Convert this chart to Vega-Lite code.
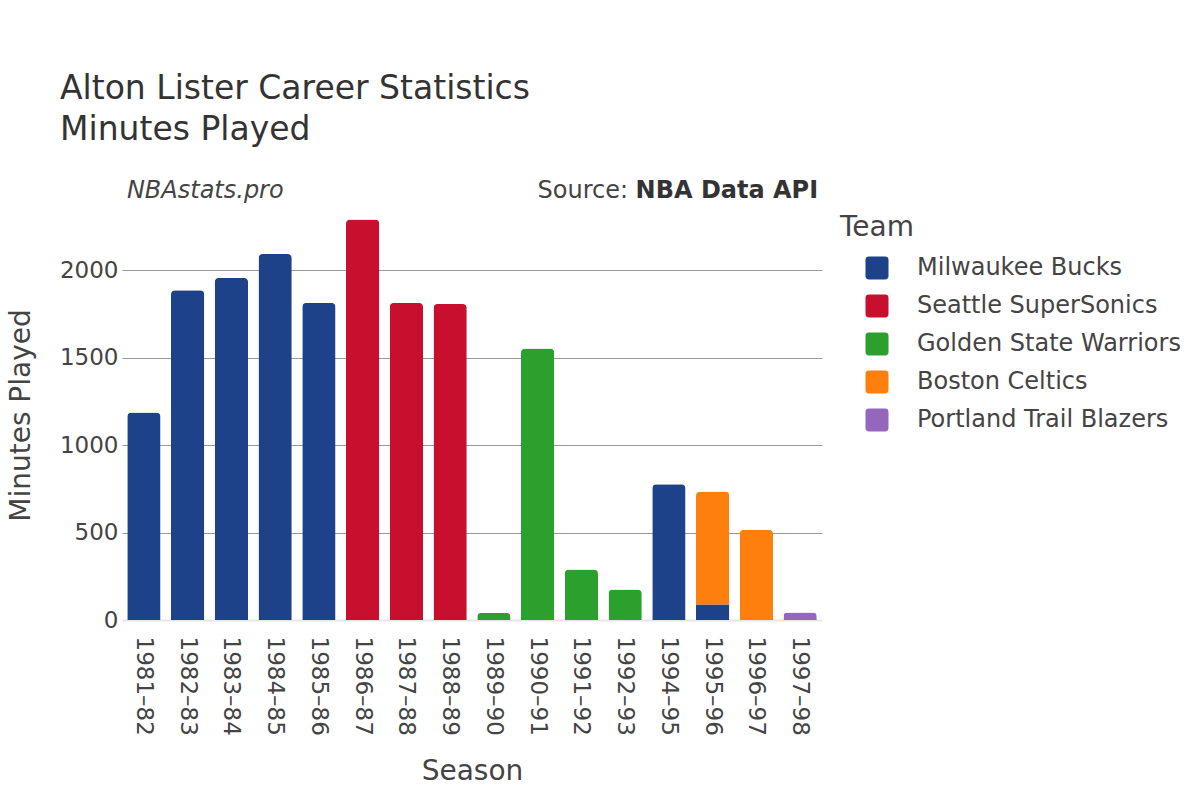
{
  "$schema": "https://vega.github.io/schema/vega-lite/v6.json",
  "width": 700,
  "height": 410,
  "autosize": {"type": "pad"},
  "padding": {"left": 7, "top": 73, "right": 5, "bottom": 5},
  "background": "white",
  "config": {
    "font": "DejaVu Sans",
    "view": {"stroke": null}
  },
  "title": {
    "text": "Alton Lister Career Statistics",
    "subtitle": "Minutes Played",
    "anchor": "start",
    "frame": "group",
    "dx": -62,
    "offset": 32,
    "font": "DejaVu Sans",
    "fontSize": 33,
    "fontWeight": "normal",
    "color": "#333333",
    "subtitleFont": "DejaVu Sans",
    "subtitleFontSize": 33,
    "subtitleColor": "#333333",
    "subtitlePadding": 8
  },
  "datasets": {
    "stats": [
      {"season": "1981–82", "team": "Milwaukee Bucks", "order": 1, "minutes": 1186},
      {"season": "1982–83", "team": "Milwaukee Bucks", "order": 1, "minutes": 1885},
      {"season": "1983–84", "team": "Milwaukee Bucks", "order": 1, "minutes": 1955},
      {"season": "1984–85", "team": "Milwaukee Bucks", "order": 1, "minutes": 2091},
      {"season": "1985–86", "team": "Milwaukee Bucks", "order": 1, "minutes": 1812},
      {"season": "1986–87", "team": "Seattle SuperSonics", "order": 2, "minutes": 2288},
      {"season": "1987–88", "team": "Seattle SuperSonics", "order": 2, "minutes": 1812},
      {"season": "1988–89", "team": "Seattle SuperSonics", "order": 2, "minutes": 1806},
      {"season": "1989–90", "team": "Golden State Warriors", "order": 3, "minutes": 40},
      {"season": "1990–91", "team": "Golden State Warriors", "order": 3, "minutes": 1552},
      {"season": "1991–92", "team": "Golden State Warriors", "order": 3, "minutes": 289},
      {"season": "1992–93", "team": "Golden State Warriors", "order": 3, "minutes": 174},
      {"season": "1994–95", "team": "Milwaukee Bucks", "order": 1, "minutes": 776},
      {"season": "1995–96", "team": "Milwaukee Bucks", "order": 1, "minutes": 88},
      {"season": "1995–96", "team": "Boston Celtics", "order": 4, "minutes": 647},
      {"season": "1996–97", "team": "Boston Celtics", "order": 4, "minutes": 516},
      {"season": "1997–98", "team": "Portland Trail Blazers", "order": 5, "minutes": 43}
    ],
    "notes": [
      {"season": "1981–82", "level": 2451, "label": "NBAstats.pro"}
    ],
    "source": [
      {"season": "1997–98", "level": 2451, "label": "NBA Data API"}
    ],
    "sourcePrefix": [
      {"season": "1992–93", "level": 2451, "label": "Source:"}
    ]
  },
  "layer": [
    {
      "data": {"name": "stats"},
      "mark": {"type": "bar", "cornerRadiusEnd": 4},
      "encoding": {
        "x": {
          "field": "season",
          "type": "nominal",
          "sort": null,
          "scale": {"paddingInner": 0.24, "paddingOuter": 0.12},
          "axis": {
            "title": "Season",
            "titleFontSize": 28,
            "titleFontWeight": "normal",
            "titleColor": "#444444",
            "titlePadding": 22,
            "labelAngle": 90,
            "labelFontSize": 23,
            "labelColor": "#444444",
            "labelPadding": 16,
            "ticks": false,
            "domain": false,
            "grid": false
          }
        },
        "y": {
          "field": "minutes",
          "type": "quantitative",
          "aggregate": "sum",
          "stack": "zero",
          "scale": {"domain": [0, 2343], "nice": false},
          "axis": {
            "title": "Minutes Played",
            "titleFontSize": 28,
            "titleFontWeight": "normal",
            "titleColor": "#444444",
            "titlePadding": 24,
            "values": [0, 500, 1000, 1500, 2000],
            "format": "d",
            "labelFontSize": 23,
            "labelColor": "#444444",
            "labelPadding": 4,
            "ticks": false,
            "domain": false,
            "grid": true,
            "gridColor": {"condition": {"test": "datum.value === 0", "value": "#e6e6e6"}, "value": "#999999"},
            "gridWidth": {"condition": {"test": "datum.value === 0", "value": 2}, "value": 1}
          }
        },
        "color": {
          "field": "team",
          "type": "nominal",
          "scale": {
            "domain": ["Milwaukee Bucks", "Seattle SuperSonics", "Golden State Warriors", "Boston Celtics", "Portland Trail Blazers"],
            "range": ["#1d428a", "#c8102e", "#2ca02c", "#ff7f0e", "#9467bd"]
          },
          "legend": {
            "title": "Team",
            "titleFontSize": 28,
            "titleFontWeight": "normal",
            "titleColor": "#444444",
            "titlePadding": 14,
            "labelFontSize": 24,
            "labelColor": "#444444",
            "labelLimit": 400,
            "labelOffset": 28,
            "symbolOffset": 25,
            "symbolSize": 529,
            "symbolType": "M -0.7,-1 H 0.7 Q 1,-1 1,-0.7 V 0.7 Q 1,1 0.7,1 H -0.7 Q -1,1 -1,0.7 V -0.7 Q -1,-1 -0.7,-1 Z",
            "symbolStrokeWidth": 0,
            "rowPadding": 14,
            "padding": 4,
            "offset": 14,
            "orient": "right"
          }
        },
        "order": {"field": "order", "type": "quantitative"}
      }
    },
    {
      "data": {"name": "notes"},
      "mark": {"type": "text", "align": "left", "baseline": "middle", "fontSize": 24, "fontStyle": "italic", "color": "#444444", "dx": -17, "clip": false},
      "encoding": {
        "x": {"field": "season", "type": "nominal", "sort": null},
        "y": {"field": "level", "type": "quantitative"},
        "text": {"field": "label"}
      }
    },
    {
      "data": {"name": "source"},
      "mark": {"type": "text", "align": "right", "baseline": "middle", "fontSize": 24, "fontWeight": "bold", "color": "#333333", "dx": 18, "clip": false},
      "encoding": {
        "x": {"field": "season", "type": "nominal", "sort": null},
        "y": {"field": "level", "type": "quantitative"},
        "text": {"field": "label"}
      }
    },
    {
      "data": {"name": "sourcePrefix"},
      "mark": {"type": "text", "align": "right", "baseline": "middle", "fontSize": 24, "color": "#444444", "dx": 3, "clip": false},
      "encoding": {
        "x": {"field": "season", "type": "nominal", "sort": null},
        "y": {"field": "level", "type": "quantitative"},
        "text": {"field": "label"}
      }
    }
  ]
}
